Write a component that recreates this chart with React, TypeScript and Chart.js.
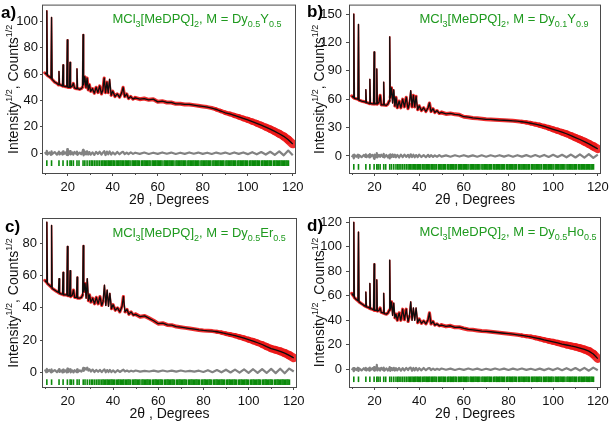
import React, { useEffect, useRef } from 'react';
import { Chart, registerables } from 'chart.js';

Chart.register(...registerables);

// 2θ sampling grid (degrees) shared by all four refinements
const twoTheta = [
  9.8, 10.45, 10.7, 10.95, 11.8, 12.55, 12.8, 13.05, 14.2, 15.2,
  15.85, 16.1, 16.35, 17.2, 17.65, 17.9, 18.15, 19.0, 19.55, 19.8,
  20.05, 20.75, 21.0, 21.25, 22.0, 22.5, 23.0, 23.85, 24.1, 24.35,
  25.3, 26.0, 26.55, 26.8, 27.05, 27.6, 28.1, 28.6, 29.1, 29.6,
  30.2, 31.0, 31.8, 32.6, 33.4, 34.2, 35.0, 35.6, 36.2, 36.8,
  37.4, 38.0, 38.6, 39.3, 40.0, 41.0, 42.0, 43.0, 44.0, 44.6,
  45.3, 46.2, 47.0, 48.0, 49.0, 50.0, 52, 54, 56, 58,
  60, 62, 64, 66, 68, 70, 72, 74, 76, 78,
  80, 82, 84, 86, 88, 90, 92, 94, 96, 98,
  100, 102, 104, 106, 108, 110, 112, 114, 116, 118,
  120,
];

// Intensity^1/2 profiles (observed and calculated coincide at this scale)
const profileA = [
  61, 60, 108, 59, 58, 57, 103, 56, 54, 53,
  52, 62, 52, 51.5, 51, 67, 51, 50.5, 50.5, 86,
  50, 50, 69, 50, 51, 53, 49.5, 49, 64, 49,
  48.5, 49, 50, 90, 52, 58, 50, 57, 48, 52,
  47, 49, 45.5, 50, 46, 51, 45, 48, 57, 46,
  54, 46, 56, 44, 47, 43, 45, 42.5, 46, 50,
  43, 45, 41.5, 43, 41, 42, 41, 41.5, 40.5, 41,
  39, 39.5, 38.5, 38.5, 37.5, 37.5, 37, 37, 36.5, 36,
  35.5, 35, 34.3, 33.2, 32, 30.7, 29.8, 28.7, 27.6, 26.4,
  25.3, 24, 22.7, 21.3, 19.8, 18.3, 16.6, 14.8, 12.8, 10.2,
  7,
];

const profileB = [
  63.5, 62, 150, 61, 60.5, 60, 139, 59, 58, 57.5,
  57, 70, 56.5, 56, 55.5, 81, 55.5, 55, 55, 110,
  55, 55, 92, 55, 57, 64, 54, 54, 78, 54,
  53.5, 55, 58, 126, 62, 72, 56, 70, 53, 62,
  51, 58, 51, 60, 52, 62, 50, 55, 69, 52,
  64, 52, 63, 49, 53, 48, 51, 47, 51, 56,
  47, 50, 46, 48, 45, 46, 44.5, 45, 44, 43.5,
  41.5, 41, 40.2, 39.8, 39.3, 38.8, 38.6, 38.3, 38, 37.8,
  37.5, 37.2, 36.8, 36.2, 35.5, 34.6, 33.6, 32.5, 31.2, 29.8,
  28.2, 26.7, 25.1, 23.5, 21.5, 19.4, 17.4, 15.2, 12.8, 10.2,
  7.5,
];

const profileC = [
  57, 56, 93, 55, 54, 53, 91, 52, 51, 50,
  49.5, 58, 49, 48.5, 48.5, 62, 48, 48, 48, 78,
  47.5, 47.5, 63, 47, 48, 51, 46.5, 46.5, 59, 46,
  46, 46.5, 48, 78.5, 50, 55, 46, 58, 44.5, 48,
  43.5, 46, 42.5, 46.5, 42.5, 47, 41.5, 44, 54, 41.5,
  51, 41, 49, 39.5, 42, 38.5, 40, 37.5, 41, 47,
  37.5, 39, 36, 37.5, 35.5, 36, 34.5, 35, 33.5, 32,
  30.2, 30.5, 29.4, 29.3, 28.4, 28, 27.6, 27.2, 26.8, 26.3,
  26, 25.8, 25.6, 25.2, 24.7, 24, 23.4, 22.8, 22, 21.2,
  20.3, 19.4, 18.4, 17.3, 16, 14.8, 14, 13.1, 12, 10.6,
  9,
];

const profileD = [
  62, 60, 120, 58.5, 57, 56, 112, 55, 53.5, 52.2,
  51.5, 63, 51, 50.5, 50, 70, 49.5, 49, 48.5, 86,
  48, 48, 73, 47.5, 48, 50, 46.5, 46, 62, 45.5,
  45, 46, 48, 89, 49, 55, 44, 54, 42, 45,
  40, 46, 40, 49, 40.5, 49, 39, 43, 55, 40,
  50, 40, 50, 38, 41, 37.5, 39.5, 37, 40.5, 46,
  37, 39, 36, 37, 35.5, 36, 35, 35.5, 34.2, 34.3,
  33.3, 32.5, 32.2, 31.7, 31.2, 31, 30.6, 30.2, 29.8, 29.4,
  29, 28.6, 28.1, 27.6, 27, 26.5, 25.7, 24.9, 24, 23.2,
  22.4, 21.5, 20.6, 19.8, 19, 18.3, 17.3, 16.2, 14.8, 12.5,
  8.7,
];

// Difference curves (observed − calculated)
const diffA = [
  0.8, -0.6, 1.8, -1.0, 0.6, -1.2, 1.5, -0.8, 0.9, -1.1,
  0.7, 1.2, -0.9, 0.5, -1.0, 1.4, -0.7, 0.6, -1.2, 3.2,
  -1.5, 0.8, 1.6, -0.9, 0.6, -1.1, 1.0, -0.7, 1.3, -1.2,
  0.5, -0.8, 1.1, 2.6, -1.6, 1.2, -0.9, 1.5, -1.0, 0.9,
  -1.1, 0.7, -1.3, 1.0, -0.6, 1.1, -1.0, 0.4, 1.6, -1.4,
  1.2, -0.8, 1.3, -1.0, 0.6, -0.9, 1.0, -0.8, 0.7, 1.1,
  -0.7, 0.5, -0.6, 0.6, -0.5, 0.4, -0.5, 0.5, -0.6, 0.4,
  -0.5, 0.6, -0.4, 0.5, -0.6, 0.4, -0.5, 0.6, -0.4, 0.5,
  -0.5, 0.4, -0.6, 0.5, -0.4, 0.5, -0.6, 0.6, -0.5, 0.6,
  -0.7, 0.8, -0.8, 0.9, -1.0, 1.1, -1.2, 1.4, -1.6, 2.0,
  -1.5,
];

const diffB = [
  -1.2, 1.0, -2.5, 1.4, -0.8, 1.5, -2.0, 0.9, -1.3, 1.1,
  -0.9, 1.6, -1.2, 0.8, -1.5, 2.0, -1.0, 1.2, -0.8, -3.0,
  1.5, -1.0, 3.0, -1.6, 1.2, -0.9, 1.4, -1.1, 2.2, -1.5,
  1.0, -1.4, 0.9, -2.6, 1.8, -1.2, 1.6, -1.0, 1.3, -1.4,
  1.1, -1.6, 1.4, -1.2, 1.5, -1.0, 1.2, -1.5, 1.8, -1.1,
  1.3, -1.4, 1.0, -1.2, 1.4, -1.1, 0.9, -1.3, 1.2, -1.0,
  0.8, -0.9, 0.7, -0.8, 0.9, -0.7, 0.6, -0.8, 0.7, -0.6,
  0.8, -0.7, 0.6, -0.8, 0.7, -0.8, 0.7, -0.6, 0.8, -0.7,
  0.7, -0.8, 0.8, -0.7, 0.9, -0.8, 1.0, -0.9, 1.1, -1.0,
  1.2, -1.1, 1.3, -1.4, 1.5, -1.6, 1.7, -1.8, 1.9, -2.1,
  1.4,
];

const diffC = [
  1.8, 0.2, 2.2, 0.4, 1.6, 0.1, 1.9, 0.3, 1.5, 0.2,
  1.4, 2.0, 0.3, 1.2, 0.0, 1.8, 0.2, 1.3, 0.1, 2.4,
  0.2, 1.5, 2.0, 0.1, 1.2, 0.0, 1.4, 0.3, 1.9, 0.2,
  1.3, 0.5, 1.6, 2.8, 1.0, 2.6, 1.8, 3.0, 1.2, 2.0,
  0.6, 1.8, 0.3, 1.5, 0.4, 1.6, 0.2, 1.2, 1.9, 0.1,
  1.5, 0.3, 1.6, 0.2, 1.3, 0.1, 1.4, 0.3, 1.2, 1.7,
  0.6, 1.2, 0.5, 1.1, 0.6, 1.2, 0.5, 1.0, 0.6, 1.1,
  0.5, 1.2, 0.6, 1.1, 0.5, 1.2, 0.6, 1.0, 0.5, 1.1,
  0.3, 1.4, 0.2, 1.5, 0.1, 1.7, 0.0, 1.8, -0.1, 1.9,
  -0.2, 2.0, -0.3, 2.1, -0.3, 2.2, -0.4, 2.3, -0.5, 2.4,
  0.6,
];

const diffD = [
  -0.8, 0.9, -1.6, 1.0, -0.6, 1.2, -1.4, 0.7, -1.0, 0.8,
  -0.7, 1.1, -0.9, 0.6, -1.1, 1.3, -0.8, 0.9, -0.6, 1.8,
  -1.2, 0.9, 3.5, -1.0, 0.8, -1.1, 1.2, -0.7, 1.4, -1.2,
  0.7, -1.0, 0.9, 1.8, -1.3, 1.0, -0.8, 1.2, -1.1, 0.9,
  -0.9, 1.0, -1.2, 0.8, -1.0, 1.1, -0.7, 0.9, 1.3, -1.2,
  1.0, -0.9, 1.1, -1.0, 0.8, -0.9, 1.0, -0.8, 0.7, 1.0,
  -0.6, 0.5, -0.6, 0.4, -0.5, 0.6, -0.4, 0.5, -0.6, 0.4,
  -0.5, 0.6, -0.4, 0.5, -0.6, 0.4, -0.5, 0.6, -0.4, 0.5,
  -0.6, 0.5, -0.4, 0.6, -0.5, 0.4, -0.6, 0.5, -0.7, 0.6,
  -0.7, 0.8, -0.8, 0.9, -0.9, 1.0, -1.0, 1.1, -1.2, 1.3,
  -0.8,
];

// Bragg reflection positions (2θ, degrees)
const braggPositions = [
  10.7, 12.8, 16.1, 17.9, 19.8, 21.0, 21.6, 22.5, 24.1, 25.0,
  26.8, 27.6, 28.6, 29.6, 30.4, 31.0, 31.8, 32.6, 33.4, 34.2,
  35.0, 35.6, 36.2, 36.8, 37.4,
  38.0, 38.5, 39.1, 39.6, 40.2, 40.7, 41.5, 42.1, 42.6, 43.2,
  43.7, 44.3, 44.8, 45.5, 46.0, 46.6, 47.1, 47.7, 48.6, 49.1,
  49.7, 50.2, 50.8, 51.3, 51.9, 52.8, 53.3, 53.9, 54.4, 55.0,
  55.5, 56.1, 56.6, 57.5, 58.0, 58.6, 59.1, 59.7, 60.2, 60.8,
  61.3, 61.9, 62.8, 63.3, 63.9, 64.4, 65.0, 65.5, 66.1, 66.6,
  67.2, 68.1, 68.6, 69.2, 69.7, 70.3, 70.8, 71.4, 71.9, 72.5,
  73.4, 73.9, 74.5, 75.0, 75.6, 76.1, 76.7, 77.2, 77.8, 78.3,
  79.2, 79.7, 80.3, 80.8, 81.4, 81.9, 82.5, 83.0, 83.6, 84.5,
  85.0, 85.6, 86.1, 86.7, 87.2, 87.8, 88.3, 88.9, 89.4, 90.3,
  90.8, 91.4, 91.9, 92.5, 93.0, 93.6, 94.1, 94.7, 95.6, 96.1,
  96.7, 97.2, 97.8, 98.3, 98.9, 99.4, 100.0, 100.9, 101.4, 102.0,
  102.5, 103.1, 103.6, 104.2, 104.7, 105.3, 106.2, 106.7, 107.3, 107.8,
  108.4, 108.9, 109.5, 110.0, 110.6, 111.5, 112.0, 112.6, 113.1, 113.7,
  114.2, 114.8, 115.3, 115.9, 116.4, 117.0, 117.5, 118.1,
];

// Axis tick values
const xTicks = [20, 40, 60, 80, 100, 120];
const xMinorTicks = [10, 30, 50, 70, 90, 110];
const yTicksA = [0, 20, 40, 60, 80, 100];
const yTicksB = [0, 30, 60, 90, 120, 150];
const yTicksC = [0, 20, 40, 60, 80];
const yTicksD = [0, 20, 40, 60, 80, 100, 120];

// Composition labels: [text, isSubscript]
type Piece = [string, boolean];
const formulaA: Piece[] = [['MCl', false], ['3', true], ['[MeDPQ]', false], ['2', true], [', M = Dy', false], ['0.5', true], ['Y', false], ['0.5', true]];
const formulaB: Piece[] = [['MCl', false], ['3', true], ['[MeDPQ]', false], ['2', true], [', M = Dy', false], ['0.1', true], ['Y', false], ['0.9', true]];
const formulaC: Piece[] = [['MCl', false], ['3', true], ['[MeDPQ]', false], ['2', true], [', M = Dy', false], ['0.5', true], ['Er', false], ['0.5', true]];
const formulaD: Piece[] = [['MCl', false], ['3', true], ['[MeDPQ]', false], ['2', true], [', M = Dy', false], ['0.5', true], ['Ho', false], ['0.5', true]];

const yTitle: Piece[] = [['Intensity', false], ['1/2', true], [', Counts', false], ['1/2', true]];
const xTitle = '2θ , Degrees';

const FONT = '"Liberation Sans", Arial, Helvetica, sans-serif';
const AXIS = '#4a4a4a';
const GREEN = '#1f9a1f';
const W = 306;
const H = 211;
const Y_AXIS_W = 40;
const X_AXIS_H = 30;

type PanelSpec = {
  tag: string;
  left: number;
  top: number;
  area: { l: number; r: number; t: number; b: number };
  yMin: number;
  yMax: number;
  yTicks: number[];
  profile: number[];
  diff: number[];
  braggLevel: number;
  formula: Piece[];
  tagPos: [number, number];
  yTickLen: number;
  yTickPad: number;
};

const panels: PanelSpec[] = [
  { tag: 'a)', left: 0, top: 0, area: { l: 43, r: 295, t: 3, b: 173 }, yMin: -15, yMax: 112, yTicks: yTicksA, profile: profileA, diff: diffA, braggLevel: -7.5, formula: formulaA, tagPos: [1, 17.5], yTickLen: 3, yTickPad: 2 },
  { tag: 'b)', left: 306, top: 0, area: { l: 44, r: 294, t: 3, b: 173 }, yMin: -18, yMax: 159, yTicks: yTicksB, profile: profileB, diff: diffB, braggLevel: -11.5, formula: formulaB, tagPos: [1, 16.5], yTickLen: 4, yTickPad: 4 },
  { tag: 'c)', left: 0, top: 211, area: { l: 43, r: 296, t: 8, b: 176 }, yMin: -9, yMax: 95, yTicks: yTicksC, profile: profileC, diff: diffC, braggLevel: -6, formula: formulaC, tagPos: [5, 20.5], yTickLen: 3, yTickPad: 3 },
  { tag: 'd)', left: 306, top: 211, area: { l: 44, r: 294, t: 7, b: 176 }, yMin: -14.5, yMax: 123.5, yTicks: yTicksD, profile: profileD, diff: diffD, braggLevel: -8.2, formula: formulaD, tagPos: [1, 20], yTickLen: 4, yTickPad: 4 },
];

function drawPieces(ctx: CanvasRenderingContext2D, pieces: Piece[], x: number, y: number, main: string, small: string, shift: number) {
  let cx = x;
  for (const [text, isSmall] of pieces) {
    ctx.font = isSmall ? small : main;
    ctx.fillText(text, cx, y + (isSmall ? shift : 0));
    cx += ctx.measureText(text).width;
  }
}

function piecesWidth(ctx: CanvasRenderingContext2D, pieces: Piece[], main: string, small: string) {
  let w = 0;
  for (const [text, isSmall] of pieces) {
    ctx.font = isSmall ? small : main;
    w += ctx.measureText(text).width;
  }
  return w;
}

function decorPlugin(p: PanelSpec) {
  return {
    id: 'panelDecor',
    afterDraw(chart: any) {
      const { ctx, chartArea: a, scales } = chart;
      ctx.save();
      // frame
      ctx.strokeStyle = AXIS;
      ctx.lineWidth = 1;
      ctx.strokeRect(a.left - 0.5, a.top - 0.5, a.right - a.left + 1, a.bottom - a.top + 1);
      // minor x ticks
      ctx.beginPath();
      for (const v of xMinorTicks) {
        const px = Math.round(scales.x.getPixelForValue(v)) + 0.5;
        ctx.moveTo(px, a.bottom);
        ctx.lineTo(px, a.bottom + 2);
      }
      ctx.stroke();

      // panel tag
      ctx.fillStyle = '#000';
      ctx.textAlign = 'left';
      ctx.textBaseline = 'alphabetic';
      ctx.font = `bold 17px ${FONT}`;
      ctx.fillText(p.tag, p.tagPos[0], p.tagPos[1]);

      // composition label
      ctx.fillStyle = GREEN;
      drawPieces(ctx, p.formula, a.left + 69.5, a.top + 17.5, `13px ${FONT}`, `9px ${FONT}`, 4);

      // x title
      ctx.fillStyle = '#111';
      ctx.font = `14px ${FONT}`;
      ctx.textAlign = 'center';
      ctx.fillText(xTitle, (a.left + a.right) / 2, a.bottom + 31);

      // y title, rotated
      ctx.textAlign = 'left';
      const main = `14px ${FONT}`;
      const small = `9px ${FONT}`;
      const tw = piecesWidth(ctx, yTitle, main, small);
      ctx.translate(17.5, (a.top + a.bottom) / 2);
      ctx.rotate(-Math.PI / 2);
      drawPieces(ctx, yTitle, -tw / 2, 0, main, small, -5.5);
      ctx.restore();
    },
  };
}

// width of the observed band: thin on steep peak flanks, wider where the noise grows
function observedWidth(ctx: any) {
  const steep = Math.abs(ctx.p1.y - ctx.p0.y) > 12;
  const x = ctx.p0.parsed.x;
  if (steep) return 1.6;
  if (x < 50) return 3.2;
  if (x < 85) return 4;
  return 4 + (x - 85) * 0.14;
}

function buildConfig(p: PanelSpec): any {
  const pts = (ys: number[]) => twoTheta.map((x, i) => ({ x, y: ys[i] }));
  const tickFont = { family: FONT, size: 13 };
  return {
    type: 'line',
    data: {
      datasets: [
        {
          label: 'Calculated',
          data: pts(p.profile),
          borderColor: '#0d0d0d',
          borderWidth: 1.3,
          borderJoinStyle: 'round',
          pointRadius: 0,
          tension: 0,
          order: 0,
        },
        {
          label: 'Observed',
          data: pts(p.profile),
          borderColor: 'rgba(236,22,22,0.9)',
          borderWidth: 3.2,
          borderJoinStyle: 'round',
          borderCapStyle: 'round',
          pointRadius: 0,
          tension: 0,
          order: 1,
          segment: { borderWidth: observedWidth },
        },
        {
          label: 'Difference',
          data: pts(p.diff),
          borderColor: '#828282',
          borderWidth: 2.2,
          borderJoinStyle: 'round',
          pointRadius: 0,
          tension: 0,
          order: 2,
        },
        {
          label: 'Bragg positions',
          type: 'scatter',
          data: braggPositions.map((x) => ({ x, y: p.braggLevel })),
          showLine: false,
          pointStyle: 'line',
          pointRotation: 90,
          pointRadius: 2.8,
          pointBorderColor: '#0b8a0b',
          pointBorderWidth: 1.6,
          pointBackgroundColor: '#0b8a0b',
          order: 3,
        },
      ],
    },
    options: {
      animation: false,
      responsive: false,
      devicePixelRatio: 1,
      events: [],
      layout: {
        padding: {
          left: p.area.l - Y_AXIS_W,
          right: W - p.area.r,
          top: p.area.t,
          bottom: H - p.area.b - X_AXIS_H,
        },
      },
      plugins: { legend: { display: false }, tooltip: { enabled: false }, title: { display: false } },
      scales: {
        x: {
          type: 'linear',
          min: 9,
          max: 121,
          afterBuildTicks: (s: any) => {
            s.ticks = xTicks.map((value) => ({ value }));
          },
          afterFit: (s: any) => {
            s.height = X_AXIS_H;
            s.paddingLeft = 0;
            s.paddingRight = 0;
          },
          border: { display: false },
          grid: { drawOnChartArea: false, drawTicks: true, tickLength: 3, color: AXIS, lineWidth: 1 },
          ticks: { font: tickFont, color: '#111', padding: 4, maxRotation: 0, autoSkip: false },
        },
        y: {
          type: 'linear',
          min: p.yMin,
          max: p.yMax,
          afterBuildTicks: (s: any) => {
            s.ticks = p.yTicks.map((value) => ({ value }));
          },
          afterFit: (s: any) => {
            s.width = Y_AXIS_W;
            s.paddingTop = 0;
            s.paddingBottom = 0;
          },
          border: { display: false },
          grid: { drawOnChartArea: false, drawTicks: true, tickLength: p.yTickLen, color: AXIS, lineWidth: 1 },
          ticks: { font: tickFont, color: '#111', padding: p.yTickPad, autoSkip: false },
        },
      },
    },
    plugins: [decorPlugin(p)],
  };
}

function RefinementPanel({ p }: { p: PanelSpec }) {
  const ref = useRef<HTMLCanvasElement>(null);
  useEffect(() => {
    if (!ref.current) return;
    const chart = new Chart(ref.current, buildConfig(p));
    return () => chart.destroy();
  }, [p]);
  return (
    <canvas
      ref={ref}
      width={W}
      height={H}
      style={{ position: 'absolute', left: p.left, top: p.top, width: W, height: H }}
    />
  );
}

export default function App() {
  return (
    <div style={{ position: 'fixed', left: 0, top: 0, width: 612, height: 422, background: '#fff', overflow: 'hidden' }}>
      {panels.map((p) => (
        <RefinementPanel key={p.tag} p={p} />
      ))}
    </div>
  );
}
